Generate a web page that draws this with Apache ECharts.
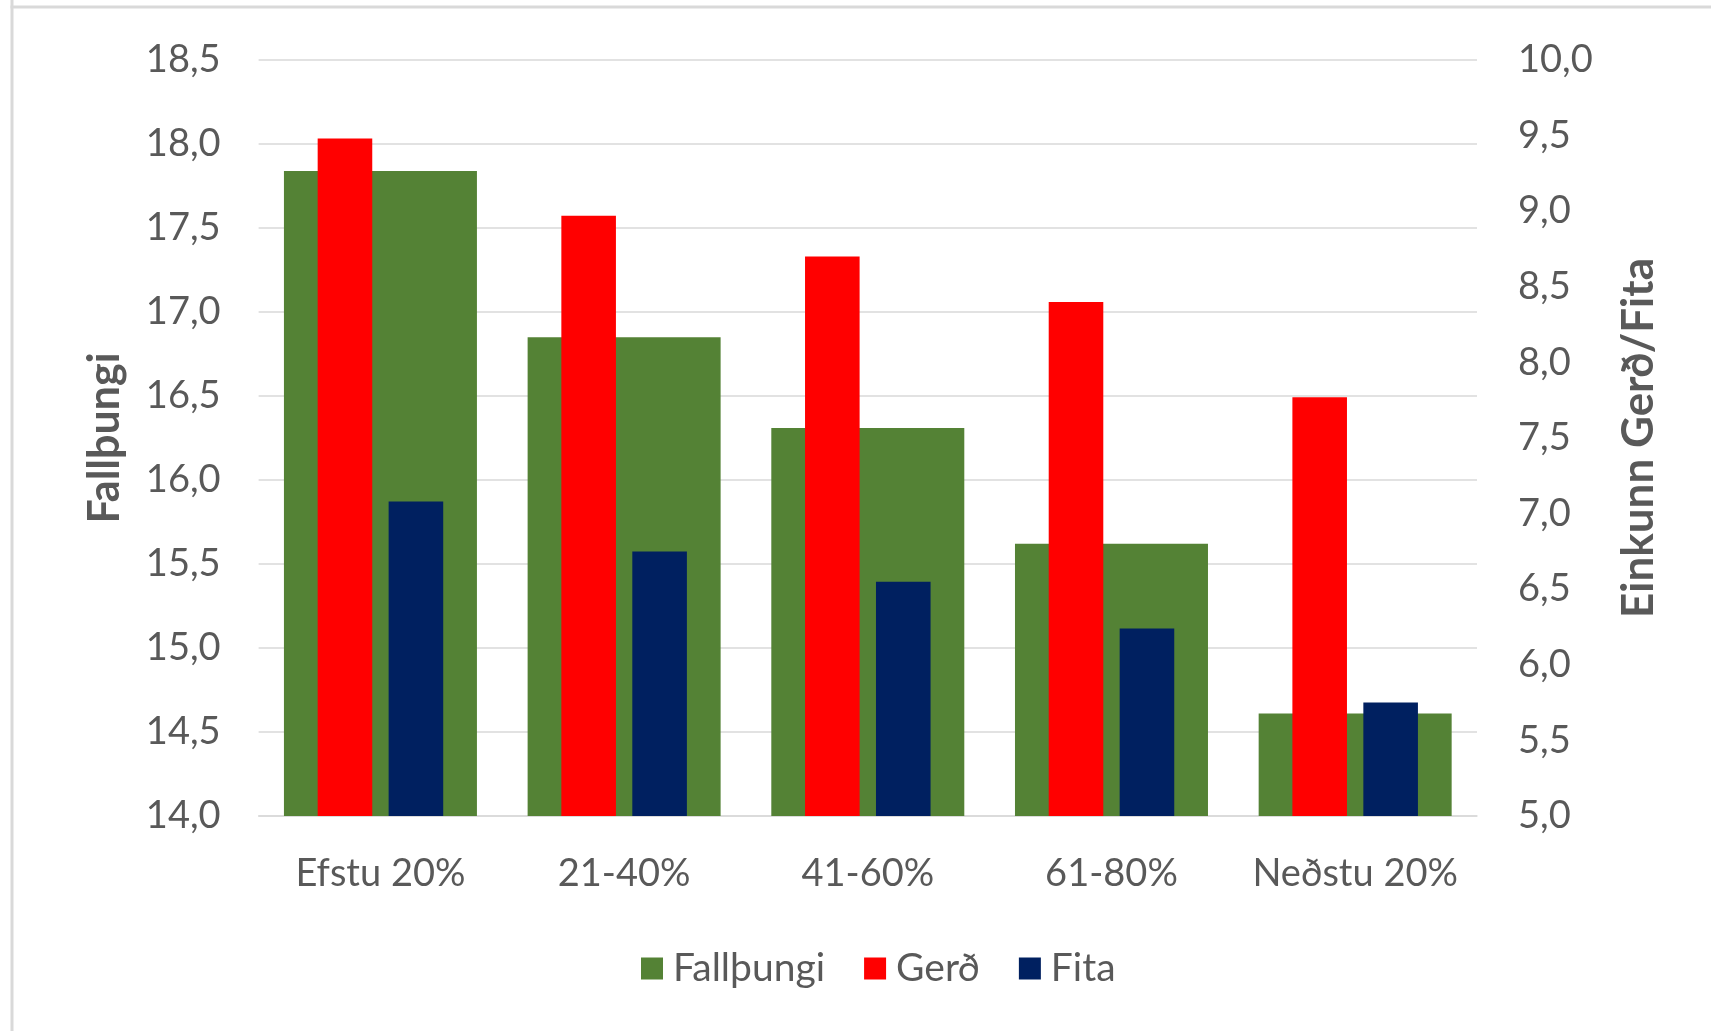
<!DOCTYPE html>
<html>
<head>
<meta charset="utf-8">
<script src="https://cdn.jsdelivr.net/npm/echarts@6/dist/echarts.min.js"></script>
<style>
html,body{margin:0;padding:0;background:#fff;}
#chart{width:1711px;height:1031px;}
</style>
</head>
<body>
<div id="chart"></div>
<script>
const categories = ['Efstu 20%', '21-40%', '41-60%', '61-80%', 'Neðstu 20%'];
const fallthungi = [17.84, 16.85, 16.31, 15.62, 14.61];
const gerd = [9.48, 8.97, 8.70, 8.40, 7.77];
const fita = [7.08, 6.75, 6.55, 6.24, 5.75];
const seriesNames = ['Fallþungi', 'Gerð', 'Fita'];
const leftAxisName = 'Fallþungi';
const rightAxisName = 'Einkunn Gerð/Fita';

const txt = '#595959';
const font = 'Lato';
const fmt = v => v.toFixed(1).replace('.', ',');

const chart = echarts.init(document.getElementById('chart'));
chart.setOption({
  backgroundColor: '#fff',
  animation: false,
  textStyle: { fontFamily: font, color: txt },
  graphic: [
    { type: 'line', shape: { x1: 12, y1: 0, x2: 12, y2: 1031 }, style: { stroke: '#D9D9D9', lineWidth: 3 } },
    { type: 'line', shape: { x1: 10.5, y1: 7, x2: 1711, y2: 7 }, style: { stroke: '#D9D9D9', lineWidth: 3 } }
  ],
  grid: { left: 258.6, right: 234, top: 60, bottom: 215, containLabel: false },
  legend: {
    left: 636, top: 944,
    itemWidth: 22, itemHeight: 22, itemGap: 39,
    icon: 'rect',
    textStyle: { fontFamily: font, fontSize: 39, color: txt, padding: [0, 0, 0, 5] },
    data: seriesNames
  },
  xAxis: [
    {
      type: 'category', data: categories,
      axisLine: { show: true, lineStyle: { color: '#D9D9D9', width: 1.5 } },
      axisTick: { show: false },
      axisLabel: { fontFamily: font, fontSize: 38, color: txt, margin: 39, interval: 0 }
    },
    {
      type: 'category', data: categories, show: false
    }
  ],
  yAxis: [
    {
      type: 'value', min: 14, max: 18.5, interval: 0.5,
      position: 'left',
      name: leftAxisName, nameLocation: 'middle', nameRotate: 90, nameGap: 132,
      nameTextStyle: { fontFamily: font, fontSize: 43, fontWeight: 'bold', color: txt },
      axisLine: { show: false }, axisTick: { show: false },
      axisLabel: { fontFamily: font, fontSize: 38, color: txt, margin: 38, formatter: fmt },
      splitLine: { lineStyle: { color: '#D9D9D9', width: 1.5 } }
    },
    {
      type: 'value', min: 5, max: 10, interval: 0.5,
      position: 'right',
      name: rightAxisName, nameLocation: 'middle', nameRotate: 90, nameGap: 140,
      nameTextStyle: { fontFamily: font, fontSize: 44, fontWeight: 'bold', color: txt },
      axisLine: { show: false }, axisTick: { show: false },
      axisLabel: { fontFamily: font, fontSize: 38, color: txt, margin: 41, formatter: fmt },
      splitLine: { show: false }
    }
  ],
  series: [
    {
      name: seriesNames[0], type: 'bar', xAxisIndex: 0, yAxisIndex: 0,
      data: fallthungi, barWidth: '79.2%',
      itemStyle: { color: '#548235' }, z: 1
    },
    {
      name: seriesNames[1], type: 'bar', xAxisIndex: 1, yAxisIndex: 1,
      data: gerd, barWidth: '22.4%', barGap: '30%',
      itemStyle: { color: '#FF0000' }, z: 3
    },
    {
      name: seriesNames[2], type: 'bar', xAxisIndex: 1, yAxisIndex: 1,
      data: fita, barWidth: '22.4%', barGap: '30%',
      itemStyle: { color: '#002060' }, z: 3
    }
  ]
});
</script>
</body>
</html>
